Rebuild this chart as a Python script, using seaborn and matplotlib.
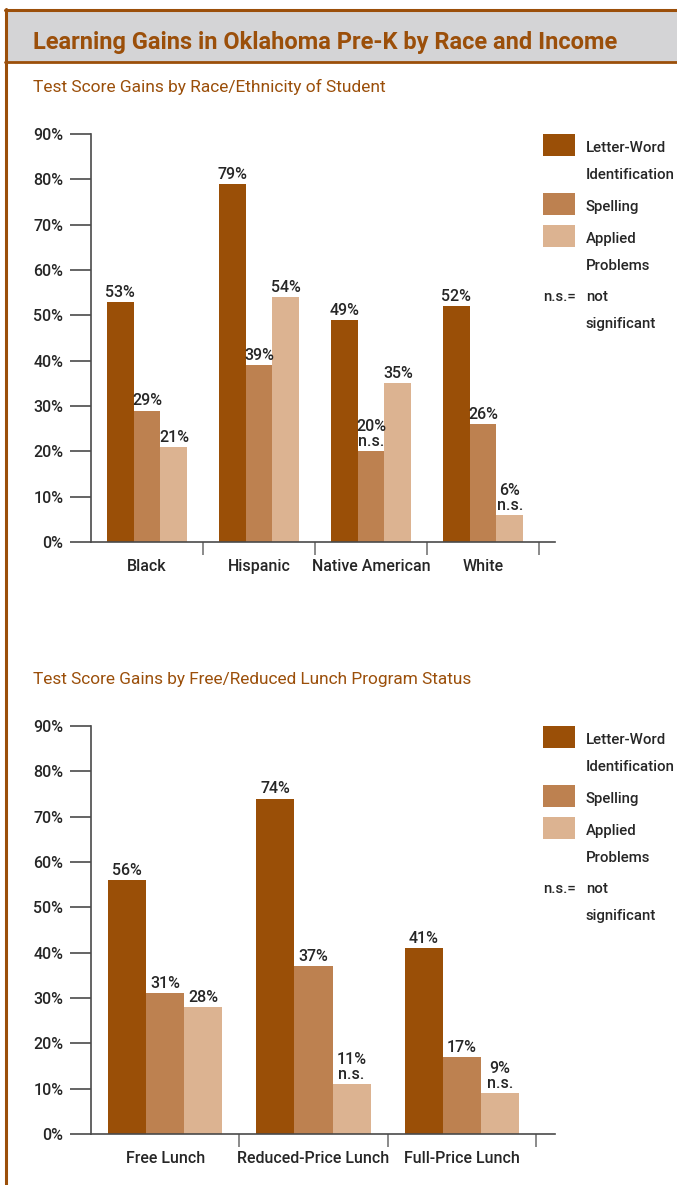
import numpy as np
import pandas as pd
import matplotlib
matplotlib.use('Agg')
import matplotlib.pyplot as plt
from matplotlib.patches import Rectangle
import seaborn as sns

# Data
measures = ['Letter-Word Identification', 'Spelling', 'Applied Problems']

race_groups = ['Black', 'Hispanic', 'Native American', 'White']
race_letter_word = [53, 79, 49, 52]
race_spelling = [29, 39, 20, 26]
race_applied = [21, 54, 35, 6]
race_spelling_ns = [False, False, True, False]
race_applied_ns = [False, False, False, True]

lunch_groups = ['Free Lunch', 'Reduced-Price Lunch', 'Full-Price Lunch']
lunch_letter_word = [56, 74, 41]
lunch_spelling = [31, 37, 17]
lunch_applied = [28, 11, 9]
lunch_spelling_ns = [False, False, False]
lunch_applied_ns = [False, True, True]

y_ticks = [0, 10, 20, 30, 40, 50, 60, 70, 80, 90]

# Colours
DARK = '#9a4f07'
MID = '#bd8150'
LIGHT = '#dcb391'
BROWN = '#9b4f0a'
GREY_BAND = '#d4d4d6'
TEXT = '#262626'
AXIS = '#4a4a4a'
palette = dict(zip(measures, [DARK, MID, LIGHT]))

sns.set_theme(style='white')
plt.rcParams['font.family'] = ['Liberation Sans Narrow', 'Roboto', 'DejaVu Sans']

W, H = 677, 1185
fig = plt.figure(figsize=(W / 100, H / 100), dpi=100)
fig.patch.set_facecolor('white')


def fx(x):
    return x / W


def fy(y):
    return 1 - y / H


def make_df(groups, lw, sp, ap, sp_ns, ap_ns):
    n = len(groups)
    return pd.DataFrame({
        'group': groups * 3,
        'measure': [measures[0]] * n + [measures[1]] * n + [measures[2]] * n,
        'value': lw + sp + ap,
        'ns': [False] * n + sp_ns + ap_ns,
    })


def draw_chart(ax, df, groups, width, right_extra):
    sns.barplot(data=df, x='group', y='value', hue='measure', order=groups,
                hue_order=measures, palette=palette, width=width, saturation=1,
                linewidth=0, legend=False, ax=ax)
    n = len(groups)
    ax.set_xlim(-0.5, n - 0.5 + right_extra)
    ax.set_ylim(0, 90)
    ax.set_yticks(y_ticks)
    ax.set_yticklabels([f'{v}%' for v in y_ticks], fontweight='medium')
    ax.set_xlabel('')
    ax.set_ylabel('')
    ax.set_xticks(range(n))
    ax.set_xticklabels(groups, fontweight='medium')
    ax.set_xticks(np.arange(n) + 0.5, minor=True)
    ax.tick_params(axis='x', which='major', length=0, pad=12, labelsize=11.5,
                   labelcolor=TEXT)
    ax.tick_params(axis='x', which='minor', length=9.5, width=1.2,
                   direction='out', color='#777777', bottom=True)
    ax.tick_params(axis='y', length=15, width=1.2, direction='out',
                   color=AXIS, pad=5, labelsize=11.5, labelcolor=TEXT, left=True)
    for s in ['top', 'right']:
        ax.spines[s].set_visible(False)
    for s in ['left', 'bottom']:
        ax.spines[s].set_color(AXIS)
        ax.spines[s].set_linewidth(1.2)
    ax.set_facecolor('white')

    for hi, cont in enumerate(ax.containers):
        sub = df[df['measure'] == measures[hi]].set_index('group').loc[groups]
        for bar, (_, row) in zip(cont, sub.iterrows()):
            label = f"{row['value']}%"
            if row['ns']:
                label += '\nn.s.'
            ax.annotate(label, (bar.get_x() + bar.get_width() / 2, bar.get_height()),
                        xytext=(0, 1.5), textcoords='offset points',
                        ha='center', va='bottom', fontsize=11.5, color=TEXT,
                        fontweight='medium', linespacing=1.0)


def draw_legend(y0):
    items = [(DARK, ['Letter-Word', 'Identification']),
             (MID, ['Spelling']),
             (LIGHT, ['Applied', 'Problems'])]
    tops = [y0, y0 + 59, y0 + 91]
    fs = 10.8
    kw = dict(fontsize=fs, color=TEXT, va='center', ha='left', fontweight='medium')
    for (col, lines), top in zip(items, tops):
        fig.patches.append(Rectangle((fx(543), fy(top + 22)), fx(32), 22 / H,
                                     transform=fig.transFigure, color=col, lw=0))
        for i, line in enumerate(lines):
            fig.text(fx(586), fy(top + 14 + 27 * i), line, **kw)
    fig.text(fx(543), fy(y0 + 163), 'n.s.=', **kw)
    fig.text(fx(586), fy(y0 + 163), 'not', **kw)
    fig.text(fx(586), fy(y0 + 190), 'significant', **kw)


# Frame and title band
fig.patches.append(Rectangle((fx(5), fy(62)), fx(672), 52 / H,
                             transform=fig.transFigure, facecolor=GREY_BAND,
                             edgecolor='none'))
fig.add_artist(plt.Line2D([fx(5), 1], [fy(10), fy(10)], color=BROWN, lw=2.2))
fig.add_artist(plt.Line2D([fx(5), 1], [fy(62), fy(62)], color=BROWN, lw=2))
fig.add_artist(plt.Line2D([fx(6), fx(6)], [fy(9), 0], color=BROWN, lw=2.2))

title = fig.text(fx(33), fy(49), 'Learning Gains in Oklahoma Pre-K by Race and Income',
                 fontsize=20, fontweight='bold', color=BROWN, va='baseline')
sub1 = fig.text(fx(33), fy(92), 'Test Score Gains by Race/Ethnicity of Student',
                fontsize=14, color=BROWN, va='baseline')
sub2 = fig.text(fx(33), fy(684), 'Test Score Gains by Free/Reduced Lunch Program Status',
                fontsize=14, color=BROWN, va='baseline')

# Chart 1: race/ethnicity
ax1 = fig.add_axes([fx(91), fy(542), fx(555 - 91), (542 - 134) / H])
race_df = make_df(race_groups, race_letter_word, race_spelling, race_applied,
                  race_spelling_ns, race_applied_ns)
draw_chart(ax1, race_df, race_groups, 0.72, 16 / 112)
draw_legend(134)

# Chart 2: lunch program status
ax2 = fig.add_axes([fx(91), fy(1134), fx(555 - 91), (1134 - 726) / H])
lunch_df = make_df(lunch_groups, lunch_letter_word, lunch_spelling, lunch_applied,
                   lunch_spelling_ns, lunch_applied_ns)
draw_chart(ax2, lunch_df, lunch_groups, 0.77, 19 / 148)
draw_legend(726)

# fit heading widths to the reference
fig.canvas.draw()
r = fig.canvas.get_renderer()
for t, target in [(title, 584), (sub1, 357), (sub2, 442)]:
    w = t.get_window_extent(r).width
    t.set_fontsize(t.get_fontsize() * target / w)

fig.savefig('out.png', dpi=100)
